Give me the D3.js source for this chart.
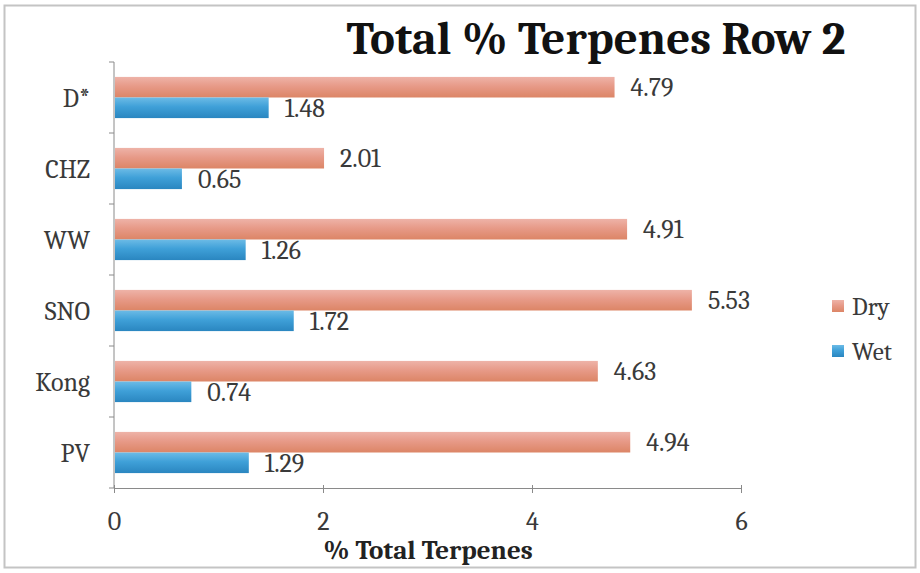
<!DOCTYPE html>
<html><head><meta charset="utf-8">
<script src="https://cdn.jsdelivr.net/npm/d3@7"></script>
<style>body{margin:0;background:#fff;}svg{display:block;}</style>
</head><body>
<script>
const categories = ["D*", "CHZ", "WW", "SNO", "Kong", "PV"];
const dryValues = [4.79, 2.01, 4.91, 5.53, 4.63, 4.94];
const wetValues = [1.48, 0.65, 1.26, 1.72, 0.74, 1.29];
const seriesNames = ["Dry", "Wet"];
const xTicks = [0, 2, 4, 6];
const titleText = "Total % Terpenes Row 2";
const xAxisTitle = "% Total Terpenes";

const W = 920, H = 573;
const svg = d3.select("body").append("svg").attr("width", W).attr("height", H);
const font = "Cambria, 'Liberation Serif', serif";
const txt = "#3a3a3a";

const defs = svg.append("defs");
const g1 = defs.append("linearGradient").attr("id","gDry").attr("x1",0).attr("y1",0).attr("x2",0).attr("y2",1);
g1.append("stop").attr("offset","0%").attr("stop-color","#eeb3a8");
g1.append("stop").attr("offset","45%").attr("stop-color","#e79a88");
g1.append("stop").attr("offset","100%").attr("stop-color","#dc8566");
const g2 = defs.append("linearGradient").attr("id","gWet").attr("x1",0).attr("y1",0).attr("x2",0).attr("y2",1);
g2.append("stop").attr("offset","0%").attr("stop-color","#6cbbe6");
g2.append("stop").attr("offset","45%").attr("stop-color","#3fa0d8");
g2.append("stop").attr("offset","100%").attr("stop-color","#2a86c0");

// frame
svg.append("rect").attr("x",4.5).attr("y",5.5).attr("width",911).attr("height",562)
  .attr("fill","none").attr("stroke","#c4c4c4").attr("stroke-width",2);

const x = d3.scaleLinear().domain([0,6]).range([114,741]);
const y = d3.scaleBand().domain(categories).range([62,488]).paddingInner(0.42).paddingOuter(0.21);
const sub = d3.scaleBand().domain(seriesNames).range([0, y.bandwidth()]);
const fills = {Dry:"url(#gDry)", Wet:"url(#gWet)"};

const data = categories.map((c,i)=>({cat:c, vals:[{s:"Dry",v:dryValues[i]},{s:"Wet",v:wetValues[i]}]}));

// axes
const xAxis = svg.append("g").attr("transform","translate(0,488)")
  .call(d3.axisBottom(x).tickValues(xTicks).tickFormat(d3.format("d")).tickSize(6).tickPadding(18).tickSizeOuter(0));
xAxis.select(".domain").attr("stroke","#8a8a8a");
xAxis.selectAll(".tick line").attr("stroke","#8a8a8a").attr("y1",-3).attr("y2",5);
xAxis.selectAll("text").attr("font-family",font).attr("font-size",26).attr("fill",txt);

const yScaleTicks = d3.scaleLinear().domain([0,6]).range([62,488]);
const yAxis = svg.append("g").attr("transform","translate(114,0)");
yAxis.append("line").attr("x1",0).attr("x2",0).attr("y1",62).attr("y2",488).attr("stroke","#8a8a8a");
yAxis.selectAll("line.t").data(d3.range(7)).enter().append("line").attr("class","t")
  .attr("x1",-5).attr("x2",0).attr("y1",d=>yScaleTicks(d)).attr("y2",d=>yScaleTicks(d)).attr("stroke","#8a8a8a");
svg.append("g").selectAll("text").data(categories).enter().append("text")
  .attr("x",90).attr("y",d=>y(d)+y.bandwidth()/2).attr("text-anchor","end").attr("dy","0.35em")
  .attr("font-family",font).attr("font-size",26).attr("fill",txt).text(d=>d);

// bars
const groups = svg.append("g").selectAll("g").data(data).enter().append("g")
  .attr("transform",d=>`translate(0,${y(d.cat)})`);
groups.selectAll("rect").data(d=>d.vals).enter().append("rect")
  .attr("x",x(0)+1).attr("y",d=>sub(d.s)).attr("height",sub.bandwidth())
  .attr("width",d=>x(d.v)-x(0)-1).attr("fill",d=>fills[d.s]);
groups.selectAll("text").data(d=>d.vals).enter().append("text")
  .attr("x",d=>x(d.v)+16).attr("y",d=>sub(d.s)+sub.bandwidth()/2).attr("dy","0.35em")
  .attr("font-family",font).attr("font-size",26).attr("fill",txt).text(d=>d.v.toFixed(2));

// title
svg.append("text").attr("x",596).attr("y",54).attr("text-anchor","middle")
  .attr("font-family",font).attr("font-weight","bold").attr("font-size",47).attr("fill","#111").text(titleText);
// x axis title
svg.append("text").attr("x",428).attr("y",559).attr("text-anchor","middle")
  .attr("font-family",font).attr("font-weight","bold").attr("font-size",27).attr("fill","#222").text(xAxisTitle);

// legend
const leg = svg.append("g").selectAll("g").data(seriesNames).enter().append("g")
  .attr("transform",(d,i)=>`translate(832,${306+i*45})`);
leg.append("rect").attr("x",0).attr("y",-6).attr("width",12).attr("height",12).attr("fill",d=>fills[d]);
leg.append("text").attr("x",20).attr("dy","0.35em").attr("font-family",font).attr("font-size",25).attr("fill",txt).text(d=>d);
</script>
</body></html>
